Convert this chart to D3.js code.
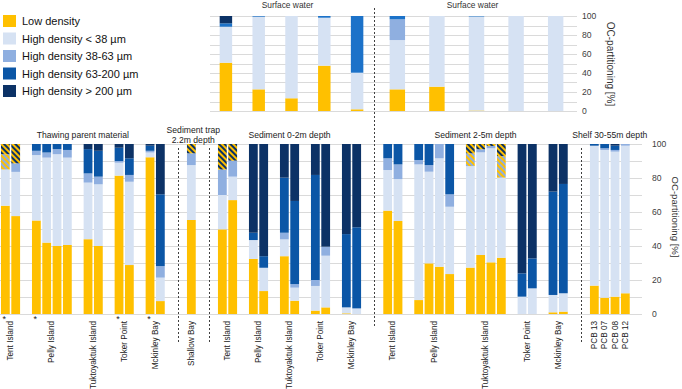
<!DOCTYPE html>
<html>
<head>
<meta charset="utf-8">
<script src="https://cdn.jsdelivr.net/npm/d3@7"></script>
<style>
  body { margin: 0; background: #fff; }
  svg { display: block; font-family: 'Liberation Sans', Arial, sans-serif; }
</style>
</head>
<body>
<svg width="682" height="389"></svg>
<script>
// columns: site, low density, <38, 38-63, 63-200, >200, hatched (38-63 + low), hatched (>63 + low)
const cols = ['low', 'lt38', 'mid', 'coarse', 'gt200', 'hatchLight', 'hatchDark'];
const legendNames = ['Low density', 'High density < 38 µm', 'High density 38-63 µm', 'High density 63-200 µm', 'High density > 200 µm'];

const surfaceLeft = [
  ['Tent Island', 50.8, 37.9, 0, 3.6, 7.7, 0, 0],
  ['Pelly Island', 22.8, 76.5, 0, 0.7, 0, 0, 0],
  ['Tuktoyaktuk Island', 13.4, 86.6, 0, 0, 0, 0, 0],
  ['Toker Point', 47.7, 50.5, 0, 1.8, 0, 0, 0],
  ['Mckinley Bay', 1.8, 38.5, 0, 59.7, 0, 0, 0]
];
const surfaceRight = [
  ['Tent Island', 22.8, 51.9, 21.8, 3.5, 0, 0, 0],
  ['Pelly Island', 25.6, 74.4, 0, 0, 0, 0, 0],
  ['Tuktoyaktuk Island', 0.5, 99, 0, 0.5, 0, 0, 0],
  ['Toker Point', 0, 100, 0, 0, 0, 0, 0],
  ['Mckinley Bay', 0, 100, 0, 0, 0, 0, 0]
];

const thawing = [
  ['Tent Island', 63.7, 21.3, 0, 0, 0, 9, 6],
  ['Tent Island', 57.6, 26, 5, 0, 0, 0, 11.4],
  ['Pelly Island', 55, 38.5, 2.5, 4, 0, 0, 0],
  ['Pelly Island', 42, 50, 3, 5, 0, 0, 0],
  ['Pelly Island', 40, 54, 3, 3, 0, 0, 0],
  ['Pelly Island', 40.6, 51.4, 4.5, 3.5, 0, 0, 0],
  ['Tuktoyaktuk Island', 44, 33.3, 5.4, 14.3, 3, 0, 0],
  ['Tuktoyaktuk Island', 40, 36.3, 4.5, 15.2, 4, 0, 0],
  ['Toker Point', 81.4, 7.6, 1, 7.8, 2.2, 0, 0],
  ['Toker Point', 28.8, 49, 4, 9.8, 8.4, 0, 0],
  ['Mckinley Bay', 92.2, 2.8, 1, 3, 1, 0, 0],
  ['Mckinley Bay', 7.6, 13.8, 6.8, 42.2, 29.6, 0, 0]
];
const thawingStars = ['Tent Island', 'Pelly Island', 'Toker Point', 'Mckinley Bay'];

const trap = [
  ['Shallow Bay', 55.3, 32.3, 6.9, 0, 0, 0, 5.5]
];

const sed02 = [
  ['Tent Island', 49.8, 20.2, 15, 0, 0, 0, 15],
  ['Tent Island', 67, 13.8, 9.4, 0, 0, 0, 9.8],
  ['Pelly Island', 32.4, 11.1, 0, 4.3, 52.2, 0, 0],
  ['Pelly Island', 13.5, 13.7, 0, 6.8, 66, 0, 0],
  ['Tuktoyaktuk Island', 34, 9.9, 3.9, 32.4, 19.8, 0, 0],
  ['Tuktoyaktuk Island', 7.8, 7.7, 2.1, 48.9, 33.5, 0, 0],
  ['Toker Point', 2, 14.5, 3.5, 61.8, 18.2, 0, 0],
  ['Toker Point', 3.9, 30.4, 5.3, 0, 60.4, 0, 0],
  ['Mckinley Bay', 0.4, 3.5, 0, 43.1, 53, 0, 0],
  ['Mckinley Bay', 0, 3.3, 0, 47.7, 49, 0, 0]
];

const sed25 = [
  ['Tent Island', 60.8, 23.9, 6.9, 8.4, 0, 0, 0],
  ['Tent Island', 54.7, 24.7, 8.6, 12, 0, 0, 0],
  ['Pelly Island', 8.2, 79.8, 2.6, 9.4, 0, 0, 0],
  ['Pelly Island', 29.8, 53.9, 3.9, 12.4, 0, 0, 0],
  ['Pelly Island', 27.8, 63.8, 8.4, 0, 0, 0, 0],
  ['Pelly Island', 23.5, 39.6, 7.3, 29.6, 0, 0, 0],
  ['Tuktoyaktuk Island', 27.3, 59.7, 0, 0, 0, 7.5, 5.5],
  ['Tuktoyaktuk Island', 34.7, 60.4, 1.8, 0, 0, 0, 3.1],
  ['Tuktoyaktuk Island', 30.4, 67.1, 1.3, 0, 0, 0, 1.2],
  ['Tuktoyaktuk Island', 33.1, 47.1, 0, 0, 0, 12.7, 7.1],
  ['Toker Point', 0, 10.2, 0, 13.7, 76.1, 0, 0],
  ['Toker Point', 0, 15.1, 0, 17.6, 67.3, 0, 0],
  ['Mckinley Bay', 1, 10.2, 0, 60.8, 28, 0, 0],
  ['Mckinley Bay', 1.4, 10.8, 0, 64.3, 23.5, 0, 0]
];

const shelf = [
  ['PCB 13', 16.7, 82.3, 0, 1, 0, 0, 0],
  ['PCB 07', 9.6, 86.9, 1, 2.5, 0, 0, 0],
  ['PCB 08', 10.2, 85.3, 1, 2.5, 1, 0, 0],
  ['PCB 12', 12.2, 86.8, 1, 0, 0, 0, 0]
];

const yTicks = [0, 20, 40, 60, 80, 100];
const axisTitle = 'OC-partitioning [%]';

// ---------------------------------------------------------------
const svg = d3.select('svg');
const defs = svg.append('defs');

const colors = {
  low: '#FFC000', lt38: '#D6E2F3', mid: '#8FAFE0', coarse: '#0B56A6', gt200: '#0C3266',
  hatchLight: 'url(#hatchLight)', hatchDark: 'url(#hatchDark)'
};
const stackOrder = ['low', 'lt38', 'mid', 'hatchLight', 'coarse', 'gt200', 'hatchDark'];

function hatch(id, c1, c2) {
  const p = defs.append('pattern').attr('id', id)
    .attr('patternUnits', 'userSpaceOnUse')
    .attr('width', 4).attr('height', 4)
    .attr('patternTransform', 'rotate(-45)');
  p.append('rect').attr('width', 4).attr('height', 4).attr('fill', c2);
  p.append('rect').attr('width', 2).attr('height', 4).attr('fill', c1);
}
hatch('hatchDark', '#0C3266', '#FFC000');
hatch('hatchLight', '#8FAFE0', '#FFC000');

const toObj = r => { const o = { site: r[0] }; cols.forEach((c, i) => o[c] = r[i + 1]); return o; };
const stack = d3.stack().keys(stackOrder);

function drawStacks(g, rows, x, y, colorFor) {
  const series = stack(rows.map(toObj));
  series.forEach(s => {
    g.append('g').selectAll('rect')
      .data(s.map((d, i) => ({ d, i })).filter(e => e.d[1] - e.d[0] > 0))
      .join('rect')
      .attr('x', e => x(e.i))
      .attr('width', x.bandwidth())
      .attr('y', e => y(e.d[1]))
      .attr('height', e => y(e.d[0]) - y(e.d[1]))
      .attr('fill', colorFor(s.key));
  });
}

function grid(g, y, x0, x1) {
  g.append('g').selectAll('line')
    .data(y.ticks(10))
    .join('line')
    .attr('x1', x0).attr('x2', x1)
    .attr('y1', d => Math.round(y(d)) + 0.5).attr('y2', d => Math.round(y(d)) + 0.5)
    .attr('stroke', '#DADADA').attr('stroke-width', 1);
}

function rightAxis(g, y, xPos, pad, fs) {
  const ax = g.append('g').attr('transform', `translate(${xPos},0)`)
    .call(d3.axisRight(y).tickValues(yTicks).tickSize(0).tickPadding(pad));
  ax.select('.domain').remove();
  ax.selectAll('text').attr('font-size', fs).attr('fill', '#404040')
    .attr('font-family', "'Liberation Sans', Arial, sans-serif");
}

function dashed(x, y1, y2) {
  svg.append('line').attr('x1', x).attr('x2', x).attr('y1', y1).attr('y2', y2)
    .attr('stroke', '#404040').attr('stroke-width', 1).attr('stroke-dasharray', '2,2');
}

// ---------------- top panels ----------------
const yTop = d3.scaleLinear().domain([0, 100]).range([111, 16]);
const topG = svg.append('g');
grid(topG, yTop, 210, 577);

const xTL = d3.scaleBand().domain(d3.range(surfaceLeft.length)).range([209.5, 373.5]).paddingInner(0.62).paddingOuter(0.31);
const xTR = d3.scaleBand().domain(d3.range(surfaceRight.length)).range([373, 580]).paddingInner(0.61).paddingOuter(0.42);
const topColor = k => k === 'coarse' ? '#1C72C9' : colors[k];
drawStacks(topG, surfaceLeft, xTL, yTop, topColor);
drawStacks(topG, surfaceRight, xTR, yTop, topColor);

[[xTL, surfaceLeft], [xTR, surfaceRight]].forEach(([x, rows]) => {
  const cx = (x(0) + x(rows.length - 1) + x.bandwidth()) / 2;
  topG.append('text').attr('x', cx - 4).attr('y', 8).attr('text-anchor', 'middle')
    .attr('font-size', 8.4).attr('fill', '#333').text('Surface water');
});
rightAxis(topG, yTop, 577, 5, 8.6);
topG.append('text')
  .attr('transform', `translate(607,64) rotate(90)`)
  .attr('text-anchor', 'middle').attr('font-size', 10).attr('fill', '#333')
  .text(axisTitle);

// ---------------- bottom panels ----------------
const panels = [
  { title: ['Thawing parent material'], rows: thawing, siteGap: 1, stars: thawingStars },
  { title: ['Sediment trap', '2.2m depth'], rows: trap, siteGap: 1, stars: [] },
  { title: ['Sediment 0-2m depth'], rows: sed02, siteGap: 1, stars: [] },
  { title: ['Sediment 2-5m depth'], rows: sed25, siteGap: 1, stars: [] },
  { title: ['Shelf 30-55m depth'], rows: shelf, siteGap: 0, stars: [] }
];

let slot = 0;
const bars = [];
const groups = [];
panels.forEach((p, pi) => {
  if (pi > 0) slot += 2;
  p.first = slot;
  let prev = null;
  p.rows.forEach(r => {
    if (prev !== null && r[0] !== prev) slot += p.siteGap;
    if (r[0] !== prev) groups.push({ site: r[0], panel: p, slots: [] });
    groups[groups.length - 1].slots.push(slot);
    bars.push({ slot, row: r });
    prev = r[0];
    slot++;
  });
  p.last = slot - 1;
});

const yBot = d3.scaleLinear().domain([0, 100]).range([314, 144]);
const xBot = d3.scaleBand().domain(d3.range(slot)).range([0.2, 630.5]).paddingInner(0.15).paddingOuter(0.075);
const bw = xBot.bandwidth();

const bot = svg.append('g');
grid(bot, yBot, 0, 642);

// stack every bar, then place by slot
const xSlot = i => xBot(bars[i].slot);
xSlot.bandwidth = () => bw;
drawStacks(bot, bars.map(b => b.row), xSlot, yBot, k => colors[k]);

rightAxis(bot, yBot, 642, 10, 8.6);
bot.append('text')
  .attr('transform', `translate(672,217) rotate(90)`)
  .attr('text-anchor', 'middle').attr('font-size', 9.6).attr('fill', '#333')
  .text(axisTitle);

// panel titles and separators
panels.forEach((p, pi) => {
  const cx = (xBot(p.first) + xBot(p.last) + bw) / 2;
  const t = bot.append('text').attr('text-anchor', 'middle').attr('font-size', 8.6).attr('fill', '#222');
  if (p.title.length === 1) {
    t.attr('x', cx).attr('y', 138).text(p.title[0]);
  } else {
    p.title.forEach((line, li) => t.append('tspan').attr('x', cx + 2).attr('y', 133 + li * 10).text(line));
  }
  if (pi > 0) {
    const prev = panels[pi - 1];
    const sx = Math.round((xBot(prev.last) + bw + xBot(p.first)) / 2 + 2) + 0.5;
    if (pi === 3) dashed(sx, 8, 326);
    else dashed(sx, 148, 343);
  }
});

// site labels
groups.forEach(gr => {
  const cx = (xBot(gr.slots[0]) + xBot(gr.slots[gr.slots.length - 1]) + bw) / 2;
  bot.append('text')
    .attr('transform', `translate(${cx},321) rotate(-90)`)
    .attr('text-anchor', 'end').attr('dominant-baseline', 'central')
    .attr('font-size', 8.2).attr('fill', '#222')
    .text(gr.site);
  if (gr.panel.stars.includes(gr.site)) {
    bot.append('text')
      .attr('x', xBot(gr.slots[0]) + bw / 2 - 1).attr('y', 322)
      .attr('text-anchor', 'middle').attr('font-size', 9).attr('fill', '#222')
      .text('*');
  }
});

// ---------------- legend ----------------
const legendKeys = ['low', 'lt38', 'mid', 'coarse', 'gt200'];
const legend = svg.append('g');
legendNames.forEach((name, i) => {
  const ty = 15 + i * 17.5;
  legend.append('rect').attr('x', 3).attr('y', ty).attr('width', 13).attr('height', 12)
    .attr('fill', colors[legendKeys[i]]);
  legend.append('text').attr('x', 22).attr('y', ty + 6).attr('dominant-baseline', 'central')
    .attr('font-size', 11).attr('fill', '#111').text(name);
});
</script>
</body>
</html>
